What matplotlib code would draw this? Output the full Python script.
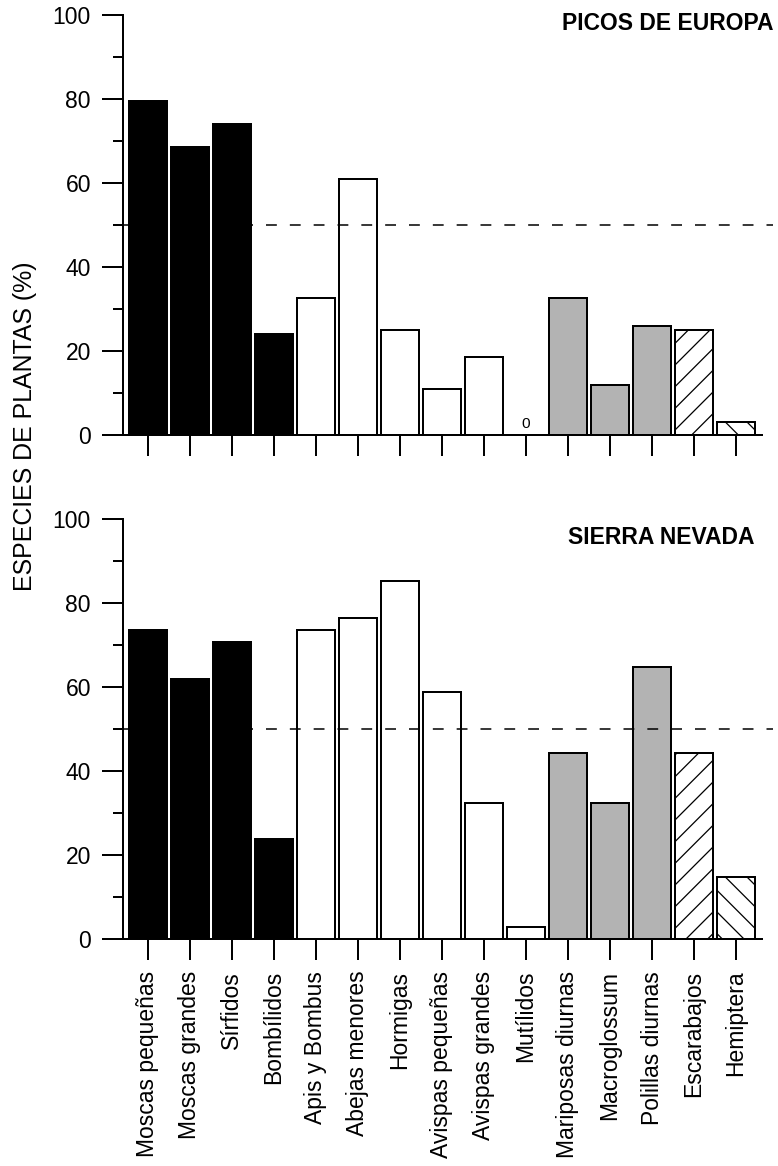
import matplotlib
matplotlib.use('Agg')
import matplotlib.pyplot as plt
from matplotlib.ticker import MultipleLocator

plt.rcParams['font.family'] = ['Liberation Sans', 'DejaVu Sans']
plt.rcParams['hatch.linewidth'] = 0.7
plt.rcParams['lines.scale_dashes'] = False

categories = ['Moscas pequeñas', 'Moscas grandes', 'Sírfidos', 'Bombílidos',
              'Apis y Bombus', 'Abejas menores', 'Hormigas',
              'Avispas pequeñas', 'Avispas grandes', 'Mutílidos',
              'Mariposas diurnas', 'Macroglossum', 'Polillas diurnas',
              'Escarabajos', 'Hemiptera']
picos = [79.5, 68.6, 74.0, 24.0, 32.7, 60.9, 25.0, 11.0, 18.5, 0.0,
         32.5, 11.9, 26.0, 25.0, 3.2]
sierra = [73.6, 61.8, 70.7, 23.7, 73.6, 76.5, 85.3, 58.8, 32.4, 2.9,
          44.2, 32.4, 64.8, 44.2, 14.8]
fills = ['black'] * 4 + ['white'] * 6 + ['#b3b3b3'] * 3 + ['white'] * 2
hatches = [''] * 13 + ['//', '\\\\']
threshold = 50

DPI = 130
fig = plt.figure(figsize=(778 / DPI, 1166 / DPI), dpi=DPI)
ax_top = fig.add_axes([0.1577, 0.6269, 0.8213, 0.3605])
ax_bot = fig.add_axes([0.1577, 0.1947, 0.8213, 0.3602])


def draw_panel(ax, values, show_labels):
    x = list(range(len(categories)))
    bars = ax.bar(x, values, width=0.9, color=fills, edgecolor='black',
                  linewidth=1.1, zorder=2)
    for b, h in zip(bars, hatches):
        if h:
            b.set_hatch(h)
    ax.plot([-0.6, 14.88], [threshold, threshold], color='black', lw=0.85,
            dashes=(6, 7.2), clip_on=False, zorder=3)
    for i, v in enumerate(values):
        if v == 0:
            ax.annotate('0', (i, v), xytext=(0, 2), textcoords='offset points',
                        ha='center', va='bottom', fontsize=8.5)

    ax.set_xlim(-0.6, 14.61)
    ax.set_ylim(0, 100)
    for s in ('top', 'right'):
        ax.spines[s].set_visible(False)
    for s in ('left', 'bottom'):
        ax.spines[s].set_linewidth(1.1)

    ax.set_xticks(x)
    if show_labels:
        ax.set_xticklabels(categories, rotation=90, fontsize=12.7)
    else:
        ax.set_xticklabels([])
    ax.yaxis.set_major_locator(MultipleLocator(20))
    ax.yaxis.set_minor_locator(MultipleLocator(10))
    ax.tick_params(axis='x', length=11.6, width=1.1, pad=6)
    ax.tick_params(axis='y', which='major', length=11.6, width=1.1, pad=6,
                   labelsize=12.7)
    ax.tick_params(axis='y', which='minor', length=5.5, width=1.1)


draw_panel(ax_top, picos, False)
draw_panel(ax_bot, sierra, True)

fig.text(773 / 778, 1 - 23.5 / 1166, 'PICOS DE EUROPA', ha='right',
         va='center', fontsize=12.7, fontweight='bold')
fig.text(755 / 778, 1 - 537.5 / 1166, 'SIERRA NEVADA', ha='right',
         va='center', fontsize=12.7, fontweight='bold')
fig.text(25 / 778, 1 - 426.5 / 1166, 'ESPECIES DE PLANTAS (%)', rotation=90,
         ha='center', va='center', fontsize=13.8)

fig.savefig('out.png', dpi=DPI)
